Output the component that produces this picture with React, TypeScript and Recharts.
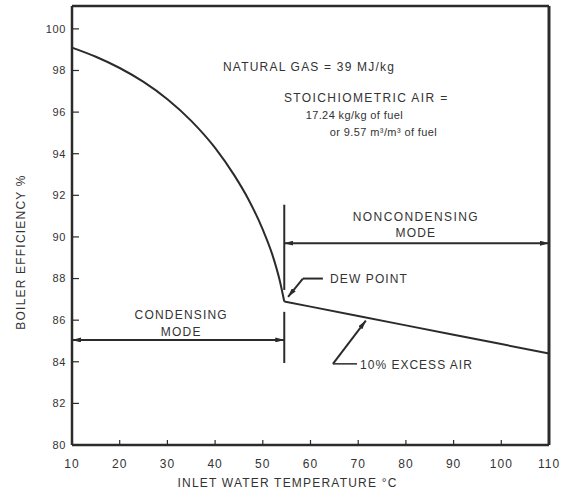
import React from 'react';
import { LineChart, Line, XAxis, YAxis, ReferenceLine, ReferenceDot, Label } from 'recharts';

// Condensing-mode branch (inlet water temperature °C -> boiler efficiency %)
const condensingTemps = [10, 15, 20, 25, 30, 35, 40, 44, 47, 50, 52, 53.5, 54.5];
const condensingEff = [99.1, 98.66, 98.12, 97.45, 96.62, 95.58, 94.28, 92.97, 91.8, 90.35, 89.15, 87.95, 86.9];
// Non-condensing branch
const nonCondensingTemps = [54.5, 60, 70, 80, 90, 100, 110];
const nonCondensingEff = [86.9, 86.65, 86.2, 85.75, 85.3, 84.85, 84.4];

const xTicks = [10, 20, 30, 40, 50, 60, 70, 80, 90, 100, 110];
const yTicks = [80, 82, 84, 86, 88, 90, 92, 94, 96, 98, 100];
const xDomain = [10, 110];
const yDomain = [80, 101.1];
const dewPointTemp = 54.5;

const condensingData = condensingTemps.map((t, i) => ({ t, eff: condensingEff[i] }));
const nonCondensingData = nonCondensingTemps.map((t, i) => ({ t, eff: nonCondensingEff[i] }));

const INK = '#2b2b2b';
const TEXT = '#333';
const FONT = '"Liberation Sans", Arial, Helvetica, sans-serif';

type Anno = { text: string; x: number; y: number; anchor: 'start' | 'middle' | 'end'; size: number; spacing: number };
const annotations: Anno[] = [
  { text: 'NATURAL GAS = 39 MJ/kg', x: 59.7, y: 98.17, anchor: 'middle', size: 12, spacing: 1.2 },
  { text: 'STOICHIOMETRIC AIR =', x: 71.7, y: 96.68, anchor: 'middle', size: 12, spacing: 1.4 },
  { text: '17.24 kg/kg of fuel', x: 69.2, y: 95.87, anchor: 'middle', size: 11, spacing: 0.4 },
  { text: 'or 9.57 m³/m³ of fuel', x: 75.3, y: 95.05, anchor: 'middle', size: 11, spacing: 0.4 },
  { text: 'NONCONDENSING', x: 82.1, y: 90.96, anchor: 'middle', size: 12, spacing: 1.4 },
  { text: 'MODE', x: 82.1, y: 90.19, anchor: 'middle', size: 12, spacing: 1.2 },
  { text: 'CONDENSING', x: 32.9, y: 86.25, anchor: 'middle', size: 12, spacing: 1.2 },
  { text: 'MODE', x: 32.9, y: 85.43, anchor: 'middle', size: 12, spacing: 1.2 },
  { text: 'DEW POINT', x: 64.1, y: 87.98, anchor: 'start', size: 12, spacing: 1.1 },
  { text: '10% EXCESS AIR', x: 70.4, y: 83.85, anchor: 'start', size: 12, spacing: 1.0 },
];

type Seg = { pts: [number, number][]; start?: boolean; end?: boolean; width?: number };
const segments: Seg[] = [
  // mode divider at the dew point
  { pts: [[dewPointTemp, 91.55], [dewPointTemp, 87.45]], width: 2 },
  { pts: [[dewPointTemp, 86.4], [dewPointTemp, 83.94]], width: 2 },
  // mode range arrows
  { pts: [[dewPointTemp, 89.7], [110, 89.7]], start: true, end: true, width: 2 },
  { pts: [[10, 85.05], [dewPointTemp, 85.05]], start: true, end: true, width: 2 },
  // dew point leader
  { pts: [[62.6, 88.0], [58.4, 88.0]], width: 2 },
  { pts: [[58.4, 88.0], [55.3, 87.12]], end: true, width: 2 },
  // excess air leader
  { pts: [[69.75, 83.9], [64.7, 83.9]], width: 1.5 },
  { pts: [[64.7, 83.9], [71.6, 85.98]], end: true, width: 2 },
];

const arrowLine = (seg: Seg) => (props: any) => (
  <line
    x1={props.x1}
    y1={props.y1}
    x2={props.x2}
    y2={props.y2}
    stroke={INK}
    strokeWidth={seg.width ?? 2}
    markerStart={seg.start ? 'url(#arrowHead)' : undefined}
    markerEnd={seg.end ? 'url(#arrowHead)' : undefined}
  />
);

const annoContent = (a: Anno) => (props: any) => {
  const vb = props.viewBox || {};
  const x = (vb.x ?? 0) + (vb.width ?? 0) / 2;
  const y = (vb.y ?? 0) + (vb.height ?? 0) / 2;
  return (
    <text
      x={x}
      y={y}
      textAnchor={a.anchor}
      dominantBaseline="central"
      fontFamily={FONT}
      fontSize={a.size}
      letterSpacing={a.spacing}
      fill={TEXT}
    >
      {a.text}
    </text>
  );
};

const yTitle = (props: any) => {
  const vb = props.viewBox;
  const cx = vb.x + 21;
  const cy = vb.y + 246;
  return (
    <text
      x={cx}
      y={cy}
      transform={`rotate(-90 ${cx} ${cy})`}
      textAnchor="middle"
      dominantBaseline="central"
      fontFamily={FONT}
      fontSize={12}
      letterSpacing={1.2}
      fill={TEXT}
    >
      BOILER EFFICIENCY %
    </text>
  );
};

const xTitle = (props: any) => {
  const vb = props.viewBox;
  const cx = vb.x + vb.width / 2 - 23;
  const cy = vb.y + 38;
  return (
    <text
      x={cx}
      y={cy}
      textAnchor="middle"
      dominantBaseline="central"
      fontFamily={FONT}
      fontSize={12}
      letterSpacing={1.2}
      fill={TEXT}
    >
      INLET WATER TEMPERATURE  °C
    </text>
  );
};

export default function App() {
  return (
    <div style={{ position: 'absolute', left: 0, top: 0, background: '#fff' }}>
      <LineChart width={565} height={504} margin={{ top: 6, right: 16, bottom: 0, left: 0 }}>
        <defs>
          <marker
            id="arrowHead"
            viewBox="0 0 10 10"
            refX="10"
            refY="5"
            markerWidth="9"
            markerHeight="5"
            markerUnits="userSpaceOnUse"
            preserveAspectRatio="none"
            orient="auto-start-reverse"
          >
            <path d="M0,0 L10,5 L0,10 Z" fill={INK} />
          </marker>
        </defs>
        <XAxis
          dataKey="t"
          type="number"
          domain={xDomain}
          ticks={xTicks}
          allowDuplicatedCategory={false}
          height={59}
          tickSize={-5}
          tickMargin={19}
          axisLine={{ stroke: INK, strokeWidth: 2.5 }}
          tickLine={{ stroke: INK, strokeWidth: 1.2 }}
          tick={{ fill: TEXT, fontSize: 12, fontFamily: FONT, letterSpacing: 1 }}
        >
          <Label content={xTitle} />
        </XAxis>
        <YAxis
          type="number"
          domain={yDomain}
          ticks={yTicks}
          width={72}
          tickSize={-7}
          tickMargin={13}
          axisLine={{ stroke: INK, strokeWidth: 2.5 }}
          tickLine={{ stroke: INK, strokeWidth: 1.2 }}
          tick={{ fill: TEXT, fontSize: 11, fontFamily: FONT, letterSpacing: 0.6 }}
        >
          <Label content={yTitle} />
        </YAxis>
        <ReferenceLine y={yDomain[1]} stroke={INK} strokeWidth={2.5} />
        <ReferenceLine x={xDomain[1]} stroke={INK} strokeWidth={3} />
        <Line
          data={condensingData}
          dataKey="eff"
          type="monotone"
          stroke={INK}
          strokeWidth={2}
          dot={false}
          isAnimationActive={false}
        />
        <Line
          data={nonCondensingData}
          dataKey="eff"
          type="linear"
          stroke={INK}
          strokeWidth={2}
          dot={false}
          isAnimationActive={false}
        />
        {segments.map((s, i) => (
          <ReferenceLine
            key={`seg-${i}`}
            segment={s.pts.map(([x, y]) => ({ x, y }))}
            shape={arrowLine(s)}
          />
        ))}
        {annotations.map((a, i) => (
          <ReferenceDot key={`anno-${i}`} x={a.x} y={a.y} r={0} fill="none" stroke="none">
            <Label content={annoContent(a)} />
          </ReferenceDot>
        ))}
      </LineChart>
    </div>
  );
}
